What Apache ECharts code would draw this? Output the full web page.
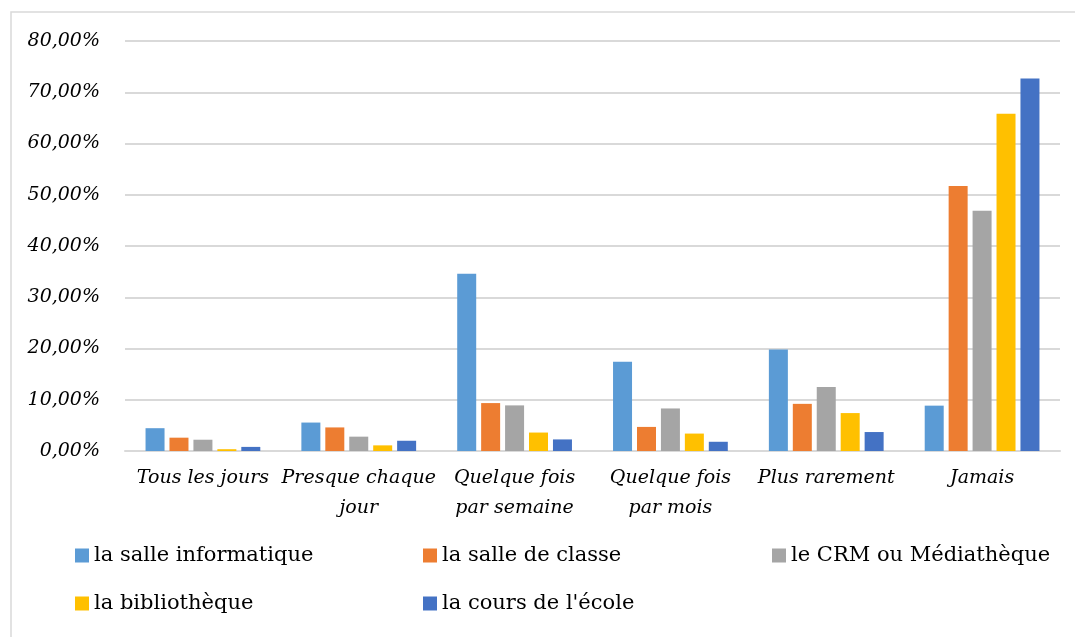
<!DOCTYPE html>
<html>
<head>
<meta charset="utf-8">
<script src="https://cdn.jsdelivr.net/npm/echarts@6/dist/echarts.min.js"></script>
<style>
  html, body { margin: 0; padding: 0; background: #fff; }
  #chart { width: 1075px; height: 637px; }
</style>
</head>
<body>
<div id="chart"></div>
<script>
// Fréquence d'usage par lieu (en %)
const categories = ['Tous les jours', 'Presque chaque\njour', 'Quelque fois\npar semaine', 'Quelque fois\npar mois', 'Plus rarement', 'Jamais'];
const seriesNames = ['la salle informatique', 'la salle de classe', 'le CRM ou Médiathèque', 'la bibliothèque', "la cours de l'école"];
const salleInformatique = [4.45, 5.55, 34.6, 17.4, 19.8, 8.85];
const salleDeClasse = [2.6, 4.6, 9.35, 4.7, 9.2, 51.7];
const crmMediatheque = [2.2, 2.8, 8.9, 8.3, 12.5, 46.9];
const bibliotheque = [0.35, 1.1, 3.6, 3.4, 7.4, 65.8];
const coursEcole = [0.8, 2.0, 2.26, 1.8, 3.7, 72.7];
const yTicks = { min: 0, max: 80, interval: 10 };

const colors = ['#5B9BD5', '#ED7D31', '#A5A5A5', '#FFC000', '#4472C4'];
const values = [salleInformatique, salleDeClasse, crmMediatheque, bibliotheque, coursEcole];
const font = '"DejaVu Serif", "Liberation Serif", serif';

// legend placed in a fixed two-row grid of columns
const legendSlots = [[75, 545], [423, 545], [772, 545], [75, 593], [423, 593]];

const chart = echarts.init(document.getElementById('chart'));
chart.setOption({
  animation: false,
  backgroundColor: '#fff',
  color: colors,
  graphic: [{
    type: 'rect',
    shape: { x: 11, y: 12, width: 1200, height: 800 },
    style: { fill: 'none', stroke: '#d9d9d9', lineWidth: 1.5 },
    silent: true
  }],
  grid: { left: 125, right: 15, top: 41, bottom: 186 },
  legend: seriesNames.map((n, i) => ({
    data: [n],
    left: legendSlots[i][0],
    top: legendSlots[i][1],
    itemWidth: 14,
    itemHeight: 14,
    itemGap: 0,
    padding: 0,
    icon: 'rect',
    selectedMode: false,
    textStyle: { fontFamily: font, fontSize: 21, color: '#000' }
  })),
  xAxis: {
    type: 'category',
    data: categories,
    axisTick: { show: false },
    axisLine: { lineStyle: { color: '#d9d9d9', width: 2 } },
    axisLabel: {
      fontFamily: font, fontStyle: 'italic', fontSize: 19, color: '#000',
      lineHeight: 30, margin: 12, interval: 0
    }
  },
  yAxis: {
    type: 'value',
    min: yTicks.min, max: yTicks.max, interval: yTicks.interval,
    axisLine: { show: false },
    axisTick: { show: false },
    splitLine: { lineStyle: { color: '#d9d9d9', width: 2 } },
    axisLabel: {
      fontFamily: font, fontStyle: 'italic', fontSize: 19, color: '#000', margin: 25,
      formatter: v => v.toFixed(2).replace('.', ',') + '%'
    }
  },
  series: seriesNames.map((n, i) => ({
    name: n,
    type: 'bar',
    data: values[i],
    barWidth: 19,
    barGap: '26%',
    itemStyle: { color: colors[i] }
  }))
});
</script>
</body>
</html>
